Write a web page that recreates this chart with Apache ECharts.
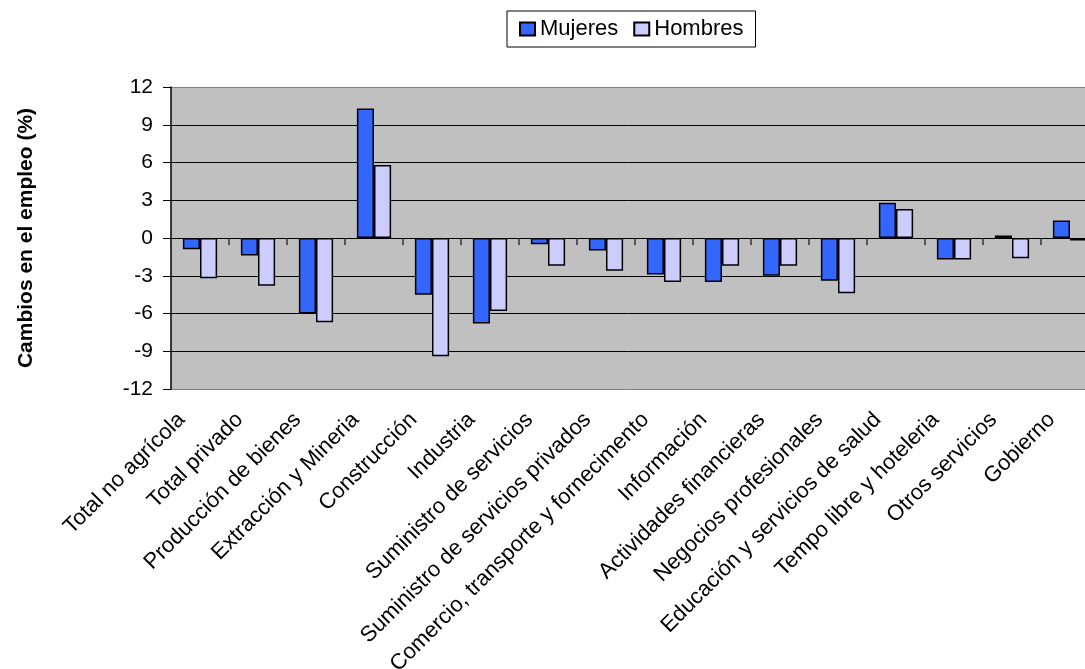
<!DOCTYPE html>
<html>
<head>
<meta charset="utf-8">
<script src="https://cdn.jsdelivr.net/npm/echarts@6/dist/echarts.min.js"></script>
<style>
  html, body { margin: 0; padding: 0; background: #ffffff; }
  #chart { width: 1085px; height: 669px; }
</style>
</head>
<body>
<div id="chart"></div>
<script>
// Employment change by sector, women vs men (%)
const categories = [
  'Total no agrícola',
  'Total privado',
  'Producción de bienes',
  'Extracción y Mineria',
  'Construcción',
  'Industria',
  'Suministro de servicios',
  'Suministro de servicios privados',
  'Comercio, transporte y fornecimento',
  'Información',
  'Actividades financieras',
  'Negocios profesionales',
  'Educación y servicios de salud',
  'Tempo libre y hoteleria',
  'Otros servicios',
  'Gobierno'
];
const mujeres = [-0.9, -1.4, -6.0, 10.3, -4.5, -6.8, -0.5, -1.0, -2.9, -3.5, -3.0, -3.4, 2.8, -1.7, 0.2, 1.4];
const hombres = [-3.2, -3.8, -6.7, 5.8, -9.4, -5.8, -2.2, -2.6, -3.5, -2.2, -2.2, -4.4, 2.3, -1.7, -1.6, -0.2];
const seriesNames = ['Mujeres', 'Hombres'];
const yTicks = { min: -12, max: 12, interval: 3 };
const yTitle = 'Cambios en el empleo (%)';

const FONT = '"Liberation Sans", Arial, sans-serif';
const chart = echarts.init(document.getElementById('chart'));

chart.setOption({
  animation: false,
  textStyle: { fontFamily: FONT, color: '#000' },
  legend: {
    data: seriesNames,
    left: 507,
    top: 11,
    orient: 'horizontal',
    icon: 'rect',
    itemWidth: 15,
    itemHeight: 13,
    itemGap: 15,
    padding: [7, 12, 7, 12],
    borderColor: '#000',
    borderWidth: 1,
    backgroundColor: '#fff',
    textStyle: { fontFamily: FONT, fontSize: 22, color: '#000' }
  },
  grid: {
    left: 171,
    top: 87,
    width: 928,
    height: 302,
    outerBoundsMode: 'none',
    containLabel: false,
    show: true,
    backgroundColor: '#C0C0C0',
    borderWidth: 0
  },
  xAxis: [
    {
      // category labels along the bottom of the plot
      type: 'category',
      data: categories,
      position: 'bottom',
      axisLine: { show: false, onZero: false },
      axisTick: { show: false },
      axisLabel: {
        rotate: 45,
        interval: 0,
        margin: 9,
        padding: [0, 26, 0, 0],
        fontFamily: FONT,
        fontSize: 22,
        color: '#000'
      }
    },
    {
      // category boundary ticks on the zero line
      type: 'category',
      data: categories,
      position: 'bottom',
      axisLine: { show: true, onZero: true, lineStyle: { color: '#000', width: 1 } },
      axisTick: { show: true, interval: 0, length: 7, lineStyle: { color: '#333', width: 1.5 } },
      axisLabel: { show: false, interval: 0 }
    }
  ],
  yAxis: {
    type: 'value',
    min: yTicks.min,
    max: yTicks.max,
    interval: yTicks.interval,
    name: yTitle,
    nameLocation: 'middle',
    nameGap: 134,
    nameTextStyle: { fontFamily: FONT, fontSize: 21, fontWeight: 'bold', color: '#000' },
    axisLine: { show: true, lineStyle: { color: '#000', width: 1.5 } },
    axisTick: { show: true, length: 8, lineStyle: { color: '#000', width: 1 } },
    axisLabel: { margin: 18, fontFamily: FONT, fontSize: 21, color: '#000' },
    splitLine: {
      show: true,
      lineStyle: {
        color: ['#808080', '#000', '#000', '#000', '#000', '#000', '#000', '#000', '#808080'],
        width: 1
      }
    }
  },
  series: [
    {
      name: seriesNames[0],
      type: 'bar',
      data: mujeres,
      barGap: '0%',
      barCategoryGap: '41%',
      itemStyle: { color: '#3366FF', borderColor: '#000', borderWidth: 1.5 }
    },
    {
      name: seriesNames[1],
      type: 'bar',
      data: hombres,
      barGap: '0%',
      barCategoryGap: '41%',
      itemStyle: { color: '#CCCCFF', borderColor: '#000', borderWidth: 1.5 }
    }
  ]
});
</script>
</body>
</html>
